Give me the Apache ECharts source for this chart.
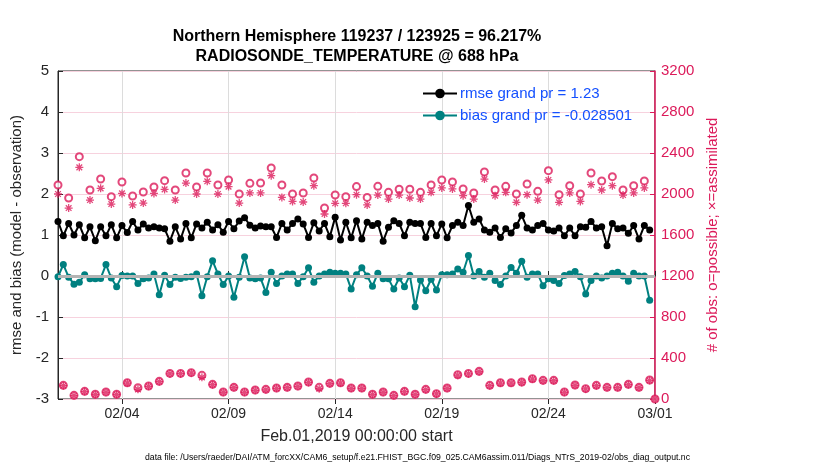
<!DOCTYPE html>
<html>
<head>
<meta charset="utf-8">
<script src="https://cdn.jsdelivr.net/npm/echarts@6/dist/echarts.min.js"></script>
<style>
html,body{margin:0;padding:0;background:#fff;}
#chart{width:830px;height:470px;}
</style>
</head>
<body>
<div id="chart"></div>
<script>
// ---- data (6-hourly, Feb 1 2019 00Z .. Mar 1 2019 00Z) ----
const startUTC = Date.UTC(2019, 1, 1, 0, 0, 0);
const stepHours = 6;
const tickLabels = ['02/04', '02/09', '02/14', '02/19', '02/24', '03/01'];

const rmse = [
1.33,0.98,1.28,1.00,1.25,0.93,1.20,0.86,1.20,0.98,1.25,0.93,1.23,1.06,1.33,1.12,1.27,1.17,1.20,1.17,
1.15,0.85,1.20,0.90,1.28,0.93,1.27,1.17,1.31,1.12,1.25,1.07,1.33,1.15,1.34,1.42,1.24,1.17,1.22,1.20,
1.20,0.94,1.28,1.12,1.28,1.39,1.27,0.94,1.30,1.10,1.28,0.96,1.43,0.88,1.31,0.93,1.35,0.90,1.31,1.23,
1.28,0.85,1.19,1.35,1.28,0.98,1.31,1.28,1.28,0.94,1.28,0.98,1.27,0.93,1.23,1.31,1.23,1.72,1.31,1.39,
1.12,1.07,1.17,0.94,1.15,1.05,1.23,1.48,1.17,1.12,1.23,1.28,1.12,1.10,1.17,0.98,1.17,0.98,1.20,1.19,
1.33,1.17,1.20,0.74,1.28,1.15,1.17,1.04,1.23,0.90,1.23,1.12,null];

const bias = [
-0.02,0.28,-0.03,-0.20,-0.15,0.03,-0.07,-0.07,-0.06,0.28,-0.05,-0.26,0.01,0.00,0.00,-0.18,-0.07,-0.05,0.05,-0.46,
0.02,-0.21,-0.03,-0.06,-0.03,-0.02,0.05,-0.48,-0.02,0.37,0.05,-0.21,0.00,-0.52,-0.03,0.47,-0.05,-0.07,-0.05,-0.40,
0.09,-0.18,0.00,0.05,0.05,-0.18,-0.02,0.20,-0.15,0.00,0.05,0.09,0.07,0.07,0.05,-0.32,0.03,0.20,0.00,-0.25,
0.07,-0.07,-0.07,-0.32,-0.05,-0.26,0.02,-0.75,-0.10,-0.36,-0.08,-0.34,0.03,0.03,0.05,0.17,0.09,0.50,0.00,0.11,
-0.03,0.07,-0.11,-0.21,0.00,0.21,0.07,0.36,-0.03,0.05,0.05,-0.24,-0.07,-0.11,-0.18,0.01,0.05,0.11,-0.02,-0.44,
-0.11,0.00,-0.05,0.00,0.07,0.09,0.00,-0.13,0.07,0.00,0.00,-0.59,null];

const nPossible = [
2088,133,1961,36,2364,75,2039,46,2146,68,1974,46,2117,159,1980,110,2020,127,2068,172,
2130,250,2039,250,2205,257,2068,231,2205,143,2088,68,2137,114,2000,68,2104,88,2107,94,
2254,107,2088,114,2000,127,2010,166,2156,114,1863,153,1990,159,1974,107,2072,107,1967,46,
2075,68,2016,36,2046,75,2046,46,2016,94,2088,52,2137,107,2117,237,2049,250,2010,270,
2215,133,2039,159,2075,159,2000,166,2098,198,2026,182,2228,182,1993,68,2081,137,2000,101,
2205,133,2127,114,2169,114,2039,143,2081,114,2127,185,0];

const nAssimilated = [
2000,130,1863,34,2260,72,1941,44,2055,66,1902,44,2006,155,1893,94,1912,124,2006,169,
2045,246,1941,247,2107,253,2000,211,2124,140,2000,66,2072,111,1912,66,2010,85,2010,90,
2179,104,1967,111,1928,124,1922,162,2081,101,1805,150,1909,155,1909,104,1993,104,1893,44,
1990,66,1951,34,1990,72,1961,44,1951,91,2016,50,2059,104,2049,232,1984,246,1951,266,
2146,130,1984,155,2016,155,1919,162,1993,194,1941,178,2137,178,1919,66,2010,133,1928,98,
2091,130,2039,111,2081,111,1990,140,2010,111,2059,181,0];

const rmseName = 'rmse grand pr = 1.23';
const biasName = 'bias grand pr = -0.028501';
const titleLine1 = 'Northern Hemisphere 119237 / 123925 = 96.217%';
const titleLine2 = 'RADIOSONDE_TEMPERATURE @ 688 hPa';

// ---- category time stamps ----
function pad(n){ return (n < 10 ? '0' : '') + n; }
const categories = nPossible.map((_, i) => {
  const d = new Date(startUTC + i * stepHours * 3600 * 1000);
  return pad(d.getUTCMonth() + 1) + '/' + pad(d.getUTCDate()) + ' ' + pad(d.getUTCHours());
});
function isTick(index, value) {
  const v = categories[index];
  return v.slice(6) === '00' && tickLabels.indexOf(v.slice(0, 5)) >= 0;
}

const crimson = '#dc1a5a';
const dark = '#262626';
const font = "'Liberation Sans', Arial, Helvetica, sans-serif";

const asterisk = 'path://M-0.8,-5L0.8,-5L0.8,5L-0.8,5Z M-5,-0.8L5,-0.8L5,0.8L-5,0.8Z ' +
  'M-4.11,-2.97L-2.97,-4.11L4.11,2.97L2.97,4.11Z M-2.97,4.11L-4.11,2.97L2.97,-4.11L4.11,-2.97Z';

const chart = echarts.init(document.getElementById('chart'), null, {renderer: 'canvas'});
chart.setOption({
  animation: false,
  backgroundColor: '#fff',
  textStyle: { fontFamily: font },
  legend: {
    data: [rmseName, biasName],
    orient: 'vertical',
    left: 417, top: 81,
    itemWidth: 34, itemHeight: 12, itemGap: 7,
    textStyle: { fontFamily: font, fontSize: 15, color: '#1450ff', padding: [0, 0, 0, -2] }
  },
  grid: {
    left: 58, right: 175, top: 71, bottom: 71,
    show: true, borderColor: dark, borderWidth: 1
  },
  xAxis: [{
    type: 'category',
    data: categories,
    boundaryGap: false,
    position: 'bottom',
    axisLine: { lineStyle: { color: dark, width: 1 } },
    axisTick: { inside: true, length: 5, interval: isTick, lineStyle: { color: dark } },
    axisLabel: { interval: isTick, formatter: v => v.slice(0, 5), color: dark, fontSize: 14, margin: 8, fontFamily: font },
    splitLine: { show: true, interval: isTick, lineStyle: { color: '#dcdcdc', width: 1 } },
    name: 'Feb.01,2019 00:00:00 start',
    nameLocation: 'middle', nameGap: 30,
    nameTextStyle: { fontSize: 16, color: dark, fontFamily: font }
  }, {
    type: 'category',
    data: categories,
    boundaryGap: false,
    position: 'top',
    axisLine: { show: false },
    axisTick: { inside: true, length: 5, interval: isTick, lineStyle: { color: dark } },
    axisLabel: { show: false },
    splitLine: { show: false }
  }],
  yAxis: [{
    type: 'value',
    min: -3, max: 5, interval: 1,
    position: 'left',
    axisLine: { show: true, lineStyle: { color: dark } },
    axisTick: { show: true, inside: true, length: 5, lineStyle: { color: dark } },
    axisLabel: { color: dark, fontSize: 15, margin: 9, fontFamily: font },
    splitLine: { show: true, lineStyle: { color: '#f7d2de', width: 1 } },
    name: 'rmse and bias (model - observation)',
    nameLocation: 'middle', nameGap: 27, nameRotate: 90,
    nameTextStyle: { fontSize: 15, color: dark, fontFamily: font }
  }, {
    type: 'value',
    min: 0, max: 3200, interval: 400,
    position: 'right',
    axisLine: { show: true, lineStyle: { color: crimson, width: 1.5 } },
    axisTick: { show: true, inside: true, length: 5, lineStyle: { color: crimson } },
    axisLabel: { color: crimson, fontSize: 15, margin: 6, fontFamily: font, formatter: v => String(v) },
    splitLine: { show: false },
    name: '# of obs: o=possible; \u00d7=assimilated',
    nameLocation: 'middle', nameGap: 48, nameRotate: 90,
    nameTextStyle: { fontSize: 15, color: crimson, fontFamily: font }
  }],
  series: [{
    name: 'possible',
    type: 'scatter',
    yAxisIndex: 1,
    data: nPossible,
    symbol: 'emptyCircle',
    symbolSize: 7,
    itemStyle: { color: crimson, borderColor: crimson, borderWidth: 1 },
    z: 3
  }, {
    name: 'assimilated',
    type: 'scatter',
    yAxisIndex: 1,
    data: nAssimilated,
    symbol: asterisk,
    symbolSize: 8,
    itemStyle: { color: crimson },
    z: 3
  }, {
    name: rmseName,
    type: 'line',
    yAxisIndex: 0,
    data: rmse,
    symbol: 'circle',
    symbolSize: 7,
    showAllSymbol: true,
    connectNulls: false,
    lineStyle: { color: '#000', width: 2 },
    itemStyle: { color: '#000' },
    z: 4
  }, {
    name: biasName,
    type: 'line',
    yAxisIndex: 0,
    data: bias,
    symbol: 'circle',
    symbolSize: 7,
    showAllSymbol: true,
    lineStyle: { color: '#008080', width: 2 },
    itemStyle: { color: '#008080' },
    markLine: {
      silent: true,
      symbol: ['none', 'none'],
      label: { show: false },
      lineStyle: { color: '#b4b4b4', width: 3, type: 'solid' },
      data: [{ yAxis: 0 }],
      z: 5
    },
    z: 4
  }],
  graphic: [{
    type: 'text',
    x: 357, y: 37,
    style: {
      text: titleLine1, textAlign: 'center', textVerticalAlign: 'middle',
      font: "bold 16px 'Liberation Sans', Arial, sans-serif", fill: '#000'
    }
  }, {
    type: 'text',
    x: 357, y: 57,
    style: {
      text: titleLine2, textAlign: 'center', textVerticalAlign: 'middle',
      font: "bold 16px 'Liberation Sans', Arial, sans-serif", fill: '#000'
    }
  }, {
    type: 'text',
    left: 145, top: 453,
    style: {
      text: 'data file: /Users/raeder/DAI/ATM_forcXX/CAM6_setup/f.e21.FHIST_BGC.f09_025.CAM6assim.011/Diags_NTrS_2019-02/obs_diag_output.nc',
      font: "8.7px 'Liberation Sans', Arial, sans-serif",
      fill: '#000'
    }
  }]
});
</script>
</body>
</html>
